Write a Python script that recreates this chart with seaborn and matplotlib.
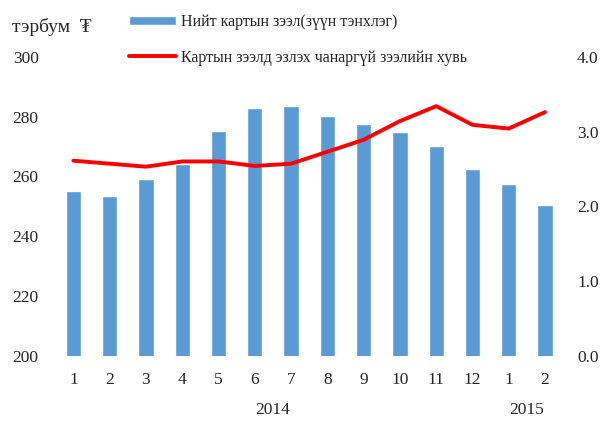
import numpy as np
import pandas as pd
import matplotlib
matplotlib.use("Agg")
import matplotlib.pyplot as plt
import matplotlib.transforms as mtransforms
import seaborn as sns

# Data
months = ["1", "2", "3", "4", "5", "6", "7", "8", "9", "10", "11", "12", "1", "2"]
periods = ["2014-%02d" % m for m in range(1, 13)] + ["2015-01", "2015-02"]
loans = [255.2, 253.5, 259.2, 264.2, 275.3, 282.9, 283.6, 280.3, 277.6, 274.9, 270.2, 262.5, 257.5, 250.5]
npl_share = [2.61, 2.57, 2.53, 2.60, 2.60, 2.54, 2.57, 2.73, 2.89, 3.14, 3.34, 3.09, 3.04, 3.26]
years = ["2014", "2015"]

bar_label = "Нийт картын зээл(зүүн тэнхлэг)"
line_label = "Картын зээлд эзлэх чанаргүй зээлийн хувь"
unit_label = "тэрбум  ₮"

df = pd.DataFrame({"period": periods, "loans": loans, "npl": npl_share})
df["pos"] = np.arange(len(df))

sns.set_theme(style="white")
plt.rcParams["font.family"] = ["Liberation Serif", "DejaVu Serif"]
plt.rcParams["font.size"] = 12

fig, ax = plt.subplots(figsize=(6.01, 4.21), dpi=100)
fig.subplots_adjust(left=0.092, right=0.937, top=0.865, bottom=0.155)

sns.barplot(data=df, x="period", y="loans", order=periods, color="#5B9BD5",
            saturation=1, width=0.42, ax=ax, label=bar_label)
if ax.get_legend() is not None:
    ax.get_legend().remove()
ax.set_ylim(200, 300)
ax.set_yticks([200, 220, 240, 260, 280, 300])
ax.set_xticks(range(len(months)))
ax.set_xticklabels(months)
ax.set_xlim(-0.5, len(months) - 0.5)
ax.set_xlabel("")
ax.set_ylabel("")
ax.tick_params(axis="both", labelsize=12.5, length=0, pad=12)

ax2 = ax.twinx()
sns.lineplot(data=df, x="pos", y="npl", color="#FF0000", linewidth=2.8, ax=ax2,
             label=line_label, legend=False)
ax2.set_ylim(0, 4)
ax2.set_yticks([0, 1, 2, 3, 4])
ax2.set_yticklabels(["%.1f" % v for v in [0, 1, 2, 3, 4]])
ax2.set_ylabel("")
ax2.tick_params(axis="y", labelsize=12.5, length=0, pad=10)
ax2.set_xlim(-0.5, len(months) - 0.5)

for a in (ax, ax2):
    for s in a.spines.values():
        s.set_visible(False)
    a.grid(False)

# year labels under months
trans = mtransforms.blended_transform_factory(ax.transData, fig.transFigure)
ax.text(5.5, 0.026, years[0], transform=trans, ha="center", va="center", fontsize=12.5)
ax.text(12.5, 0.026, years[1], transform=trans, ha="center", va="center", fontsize=12.5)

fig.text(0.02, 0.935, unit_label, ha="left", va="center", fontsize=14)

h1, l1 = ax.get_legend_handles_labels()
h2, l2 = ax2.get_legend_handles_labels()
fig.legend(h1 + h2, l1 + l2, loc="upper left", bbox_to_anchor=(0.19, 1.0),
           frameon=False, fontsize=11.5, handlelength=3.0, handleheight=0.5,
           labelspacing=1.2, handletextpad=0.3)

fig.savefig("out.png", dpi=100)
